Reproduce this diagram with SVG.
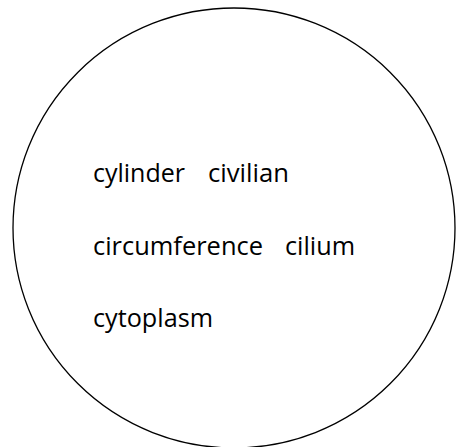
<svg xmlns="http://www.w3.org/2000/svg" width="456" height="447" viewBox="0 0 456 447">
<style>
.t{font-family:"Open Sans","Liberation Sans",sans-serif;font-size:25px;fill:#000}
</style>
<rect width="456" height="447" fill="#fff"/>
<g id="circle">
<ellipse cx="234" cy="228" rx="221" ry="220" fill="none" stroke="#000" stroke-width="1.3"/>
</g>
<g id="words">
<text class="t" x="93" y="182" textLength="92" lengthAdjust="spacingAndGlyphs">cylinder</text>
<text class="t" x="208" y="182" textLength="81" lengthAdjust="spacingAndGlyphs">civilian</text>
<text class="t" x="93" y="255" textLength="170" lengthAdjust="spacingAndGlyphs">circumference</text>
<text class="t" x="285" y="255" textLength="70" lengthAdjust="spacingAndGlyphs">cilium</text>
<text class="t" x="93" y="327" textLength="120" lengthAdjust="spacingAndGlyphs">cytoplasm</text>
</g>
</svg>
